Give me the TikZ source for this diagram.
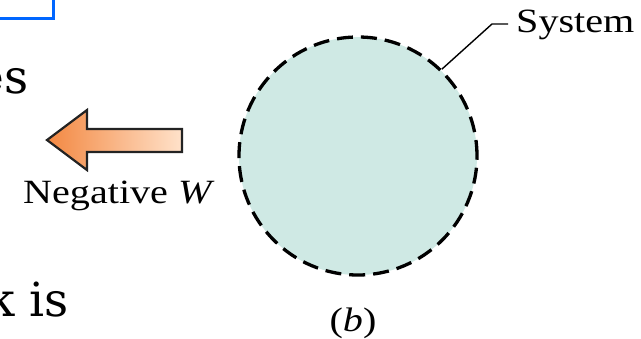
\documentclass[tikz,border=0pt]{standalone}
\usepackage{fontspec}
\setmainfont{Liberation Serif}
\newfontfamily\bigserif{DejaVu Serif}
\definecolor{sysfill}{RGB}{207,233,228}
\definecolor{boxblue}{RGB}{0,102,255}
\definecolor{arrdark}{RGB}{243,136,66}
\definecolor{arrlight}{RGB}{255,226,202}
\definecolor{outl}{RGB}{35,35,35}
\tikzset{
  lbl/.style={inner sep=0pt, font=\fontsize{34}{37}\selectfont},
  bigtxt/.style={inner sep=0pt, font=\bigserif\fontsize{47}{54}\selectfont},
  sysline/.style={line width=1.4pt, black},
}
\begin{document}
\begin{tikzpicture}[x=1pt,y=-1pt]
\useasboundingbox (0,0) rectangle (641,338);
% blue box fragment
\draw[boxblue, line width=3pt] (-20,-20) rectangle (53,18);
% cropped large text
\node[bigtxt, anchor=base east] (es) at (29,93) {es};
\node[bigtxt, anchor=base east] (kis) at (69,316) {k is};
% system circle
\node[circle, minimum size=238pt, inner sep=0pt, fill=sysfill, draw=black,
  line width=3.3pt, dash pattern=on 16pt off 8pt] (sys) at (358,156) {};
% arrow
\shade[left color=arrdark, right color=arrlight, draw=outl, line width=2.2pt, line join=miter]
  (47,140) -- (87,110) -- (87,129) -- (182,129) -- (182,152) -- (87,152) -- (87,170) -- cycle;
\node[lbl, anchor=base west] (neg) at (23,203) {\scalebox{1.18}[1]{Negative \textit{W}}};
% label System
\node[lbl, anchor=base west] (systxt) at (516,32) {\scalebox{1.18}[1]{System}};
\coordinate (bend) at (492,24);
\draw[sysline] (sys.46) -- (bend) -- (508,24);
\node[lbl, anchor=base] (b) at (353,331) {\scalebox{1.18}[1]{(\textit{b})}};
\end{tikzpicture}
\end{document}
